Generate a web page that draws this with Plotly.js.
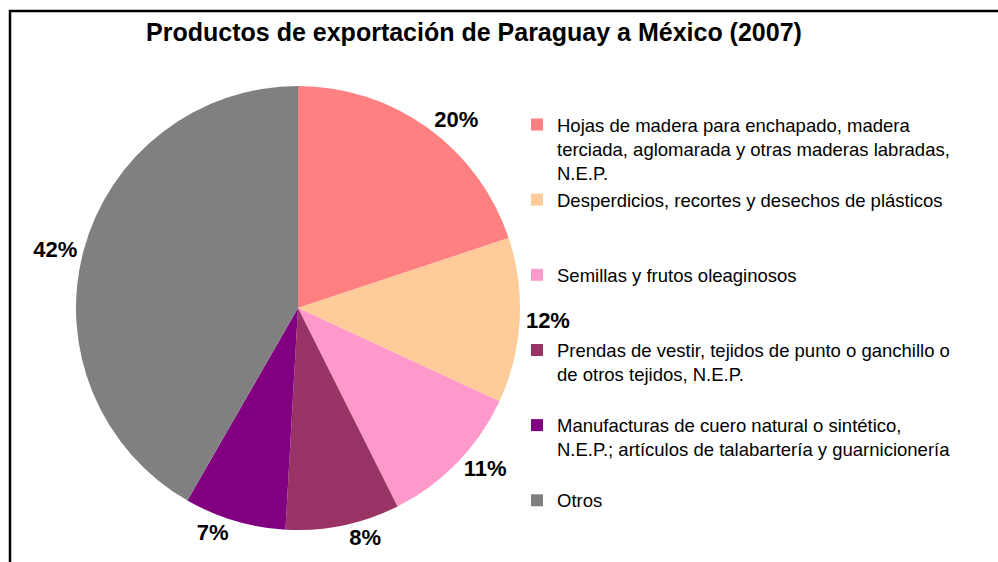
<!DOCTYPE html>
<html>
<head>
<meta charset="utf-8">
<script src="https://cdn.plot.ly/plotly-3.0.1.min.js"></script>
<style>html,body{margin:0;padding:0;background:#fff;}#chart{width:998px;height:562px;}</style>
</head>
<body>
<div id="chart"></div>
<script>
const categories = [
  "Hojas de madera para enchapado, madera<br>terciada, aglomarada y otras maderas labradas,<br>N.E.P.",
  "Desperdicios, recortes y desechos de plásticos",
  "Semillas y frutos oleaginosos",
  "Prendas de vestir, tejidos de punto o ganchillo o<br>de otros tejidos, N.E.P.",
  "Manufacturas de cuero natural o sintético,<br>N.E.P.; artículos de talabartería y guarnicionería",
  "Otros"
];
const shares = [19.9, 12.0, 10.7, 8.3, 7.4, 41.7];
const sliceColors = ["#FF8080", "#FFCC99", "#FF99CC", "#993366", "#800080", "#808080"];
const chartTitle = "Productos de exportación de Paraguay a México (2007)";

// pad legend entries (except the last) to three lines so items are evenly spaced
const legendLabels = categories.map(function (c, i) {
  let n = c.split("<br>").length;
  let s = c;
  if (i < categories.length - 1) {
    while (n < 3) { s += "<br> "; n++; }
  }
  return s;
});

const font = "Arial, 'Liberation Sans', sans-serif";

const trace = {
  type: "pie",
  labels: legendLabels,
  values: shares,
  sort: false,
  direction: "clockwise",
  rotation: 0,
  marker: { colors: sliceColors, line: { width: 0 } },
  textposition: "outside",
  texttemplate: "%{percent:.0%}",
  outsidetextfont: { family: font, size: 22, color: "#000", weight: "bold" },
  textfont: { family: font, size: 22, color: "#000", weight: "bold" },
  domain: { x: [76 / 998, 520 / 998], y: [1 - 530 / 562, 1 - 86 / 562] },
  hoverinfo: "label+percent",
  automargin: false
};

const layout = {
  width: 998,
  height: 562,
  margin: { l: 0, r: 0, t: 0, b: 0, autoexpand: false },
  paper_bgcolor: "#fff",
  plot_bgcolor: "#fff",
  title: {
    text: chartTitle,
    font: { family: font, size: 25, color: "#000", weight: "bold" },
    x: 474 / 998, xanchor: "center", xref: "paper",
    y: 1 - 32 / 562, yanchor: "middle", yref: "paper"
  },
  showlegend: true,
  legend: {
    x: 517 / 998, xanchor: "left",
    y: 1 - 106 / 562, yanchor: "top",
    valign: "top",
    font: { family: font, size: 18.5, color: "#000" },
    bgcolor: "rgba(0,0,0,0)",
    borderwidth: 0,
    tracegroupgap: 0
  },
  shapes: [{
    type: "rect", xref: "paper", yref: "paper",
    x0: 10 / 998, x1: 1.05, y0: -0.1, y1: 1 - 11 / 562,
    line: { color: "#000", width: 2.5 }, fillcolor: "rgba(0,0,0,0)", layer: "above"
  }]
};

Plotly.newPlot("chart", [trace], layout, { displayModeBar: false, staticPlot: true });
</script>
</body>
</html>
